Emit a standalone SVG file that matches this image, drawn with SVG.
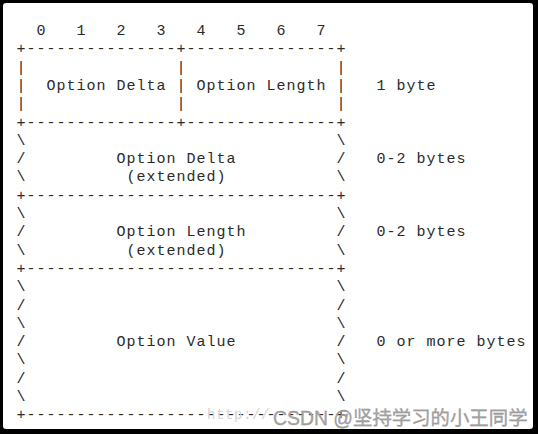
<svg xmlns="http://www.w3.org/2000/svg" width="538" height="434" viewBox="0 0 538 434">
<style>
.t{font-family:"Liberation Mono","Courier New",monospace;font-size:15px;letter-spacing:1px;fill:#2a2a2a;white-space:pre}
.wm1{font-family:"Liberation Mono",monospace;font-size:14px;letter-spacing:0.6px;fill:#d4d4d4;white-space:pre}
.wm2{font-family:"Liberation Sans","Noto Sans CJK SC",sans-serif;font-size:19.4px;fill:#a6a6a6;stroke:#8a8a8a;stroke-width:0.3}
</style>
<rect x="0" y="0" width="538" height="434" fill="#000"/>
<rect x="3" y="3" width="530" height="426" rx="3" fill="#fff"/>
<g id="bit-header">
<text class="t" x="16.5" y="35" xml:space="preserve">  0   1   2   3   4   5   6   7</text>
</g>
<g id="connectors">
<text class="t" x="16.5" y="53.3" xml:space="preserve">+---------------+---------------+</text>
<text class="t" x="16.5" y="126.5" xml:space="preserve">+---------------+---------------+</text>
<text class="t" x="16.5" y="199.7" xml:space="preserve">+-------------------------------+</text>
<text class="t" x="16.5" y="272.9" xml:space="preserve">+-------------------------------+</text>
</g>
<g id="option-delta-length">
<text class="t" x="16.5" y="71.6" xml:space="preserve">|               |               |</text>
<text class="t" x="16.5" y="89.9" xml:space="preserve">|  Option Delta | Option Length |   1 byte</text>
<text class="t" x="16.5" y="108.2" xml:space="preserve">|               |               |</text>
</g>
<g id="option-delta-extended">
<text class="t" x="16.5" y="144.8" xml:space="preserve">\                               \</text>
<text class="t" x="16.5" y="163.1" xml:space="preserve">/         Option Delta          /   0-2 bytes</text>
<text class="t" x="16.5" y="181.4" xml:space="preserve">\          (extended)           \</text>
</g>
<g id="option-length-extended">
<text class="t" x="16.5" y="218" xml:space="preserve">\                               \</text>
<text class="t" x="16.5" y="236.3" xml:space="preserve">/         Option Length         /   0-2 bytes</text>
<text class="t" x="16.5" y="254.6" xml:space="preserve">\          (extended)           \</text>
</g>
<g id="option-value">
<text class="t" x="16.5" y="291.2" xml:space="preserve">\                               \</text>
<text class="t" x="16.5" y="309.5" xml:space="preserve">/                               /</text>
<text class="t" x="16.5" y="327.8" xml:space="preserve">\                               \</text>
<text class="t" x="16.5" y="346.1" xml:space="preserve">/         Option Value          /   0 or more bytes</text>
<text class="t" x="16.5" y="364.4" xml:space="preserve">\                               \</text>
<text class="t" x="16.5" y="382.7" xml:space="preserve">/                               /</text>
<text class="t" x="16.5" y="401" xml:space="preserve">\                               \</text>
<text class="t" x="16.5" y="419.3" xml:space="preserve">+-------------------------------+</text>
</g>
<g id="watermark">
<text class="wm1" x="207" y="419.3" xml:space="preserve">http://</text>
<text class="wm2" x="273" y="425">CSDN @坚持学习的小王同学</text>
</g>
</svg>
